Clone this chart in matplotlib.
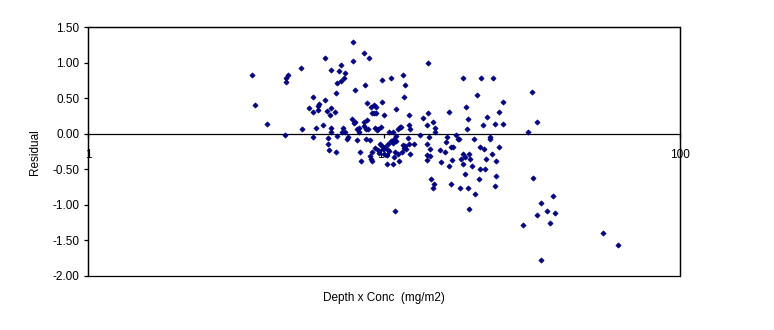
import numpy as np
import matplotlib
matplotlib.use("Agg")
import matplotlib.pyplot as plt
from matplotlib.ticker import FixedLocator, FixedFormatter, NullLocator, FormatStrFormatter

plt.rcParams['font.family'] = ['Liberation Sans', 'DejaVu Sans']

# depth x concentration (mg/m2) and model residual for each sample
depth_conc = [
    3.58, 3.66, 4.03, 4.64, 4.73, 4.67, 4.66, 5.24, 5.28,
    6.33, 6.62, 7.04, 6.93, 6.90, 5.75, 6.31, 6.03, 6.00, 5.58, 5.98,
    6.62, 6.41, 6.83, 5.75, 6.57, 6.22, 5.89, 6.63, 6.63, 6.93,
    5.75, 6.46, 6.48, 6.53, 6.90,
    7.87, 8.58, 8.89, 7.85, 7.17, 7.40, 7.32, 7.15, 7.99, 8.64,
    9.86, 10.56, 11.59, 11.77, 11.68, 14.11, 8.78, 9.84, 9.29, 9.42,
    9.05, 9.15, 9.29, 9.42, 10.0, 11.0, 12.15, 14.07, 13.54, 14.63,
    12.15, 13.96, 7.79, 7.93, 7.99, 8.58, 8.78,
    7.30, 7.40, 7.21, 8.12, 8.27, 8.23, 8.58, 8.71, 8.87, 9.36,
    9.56, 9.47, 9.79, 10.39, 10.72, 11.20, 11.35, 11.44, 12.24, 14.87,
    14.87, 7.55, 7.49, 8.12, 8.68, 8.98,
    8.29, 8.36, 9.13, 8.97, 9.03, 9.13, 9.34, 9.54, 9.62, 9.71,
    9.84, 10.10, 9.97, 10.34, 10.36, 10.02, 10.26, 10.44, 10.58, 10.86,
    10.77, 10.98, 11.00, 10.93, 11.14, 10.80, 10.23, 10.72, 11.23, 11.50,
    11.59, 11.68, 11.80, 11.86, 12.08, 12.17, 12.24, 12.69, 13.23, 13.96,
    14.29, 14.18, 13.96, 14.00, 14.33, 14.44, 14.74, 14.63, 10.88, 15.50,
    16.07, 16.33, 16.24,
    18.49, 21.27, 23.35, 31.71, 20.62, 25.23, 18.92, 16.57, 24.46, 22.27,
    19.21, 32.89, 21.60, 23.71, 25.23, 19.07, 30.67, 17.51, 17.79, 18.01,
    22.80, 22.80, 20.13, 16.84, 17.11, 21.16, 21.78, 24.46,
    18.49, 19.38, 18.83, 18.25, 19.57, 23.17, 22.11, 23.96, 16.97, 15.62,
    16.62, 18.49, 19.82, 21.16, 21.93, 18.83, 20.99, 23.96, 16.88, 18.10,
    19.21, 23.71, 20.35, 19.36,
    31.89, 37.36, 33.94, 35.65, 37.95, 32.97, 29.50, 36.41, 55.11, 61.94,
    33.94,
]
residual = [
    0.83, 0.41, 0.14, -0.02, 0.82, 0.78, 0.72, 0.93, 0.06,
    1.07, 0.90, 0.88, 0.71, 0.57, 0.51, 0.48, 0.42, 0.39, 0.36, 0.34,
    0.36, 0.32, 0.31, 0.30, 0.27, 0.12, 0.08, 0.08, 0.03, -0.03,
    -0.05, -0.06, -0.14, -0.23, -0.25,
    1.29, 1.13, 1.06, 1.02, 0.96, 0.86, 0.78, 0.74, 0.62, 0.69,
    0.76, 0.78, 0.83, 0.68, 0.51, 1.00, 0.43, 0.44, 0.41, 0.38,
    0.37, 0.29, 0.29, 0.29, 0.26, 0.35, 0.26, 0.29, 0.22, 0.16,
    0.12, 0.12, 0.20, 0.15, 0.17, 0.17, 0.19,
    0.08, 0.03, 0.02, 0.07, 0.08, 0.03, 0.11, 0.07, 0.06, 0.08,
    0.07, 0.05, 0.09, 0.03, 0.03, 0.06, 0.09, 0.10, 0.06, 0.08,
    0.03, -0.04, -0.08, -0.09, -0.07, -0.09,
    -0.25, -0.38, -0.25, -0.32, -0.36, -0.38, -0.20, -0.23, -0.27, -0.14,
    -0.17, -0.19, -0.21, -0.15, -0.23, -0.29, -0.30, -0.24, -0.10, -0.08,
    -0.13, -0.10, -0.03, -0.25, -0.29, -0.33, -0.43, -0.43, -0.38, -0.26,
    -0.16, -0.20, -0.17, -0.22, -0.06, -0.15, -0.28, -0.14, -0.02, -0.14,
    -0.21, -0.05, -0.30, -0.37, -0.32, -0.63, -0.71, -0.77, -1.09, -0.23,
    -0.26, -0.05, -0.12,
    0.79, 0.78, 0.78, 0.59, 0.54, 0.44, 0.38, 0.30, 0.30, 0.24,
    0.20, 0.17, 0.12, 0.13, 0.13, 0.06, 0.03, -0.02, -0.08, -0.07,
    -0.04, -0.07, -0.08, -0.18, -0.19, -0.18, -0.22, -0.19,
    -0.29, -0.29, -0.33, -0.35, -0.35, -0.29, -0.35, -0.38, -0.37, -0.40,
    -0.45, -0.42, -0.45, -0.50, -0.50, -0.56, -0.63, -0.60, -0.70, -0.76,
    -0.77, -0.73, -0.85, -1.06,
    -0.62, -0.88, -0.97, -1.08, -1.11, -1.14, -1.29, -1.26, -1.39, -1.57,
    -1.78,
]

x_ticks = [1, 10, 100]
x_labels = ['1', '10', '100']
y_ticks = [-2.0, -1.5, -1.0, -0.5, 0.0, 0.5, 1.0, 1.5]

fig = plt.figure(figsize=(7.74, 3.30), dpi=100)
ax = fig.add_axes([88/774, 1 - 276/330, 591.5/774, 249/330])

ax.scatter(depth_conc, residual, marker='D', s=7, color='#000080',
           linewidths=0.5, edgecolors='#000080', zorder=3)

ax.set_xscale('log')
ax.set_xlim(1, 100)
ax.set_ylim(-2.0, 1.5)

# x axis runs along residual = 0, plot area keeps a full box
ax.spines['bottom'].set_position(('data', 0))
for sp in ax.spines.values():
    sp.set_linewidth(0.9)
ax.patch.set_edgecolor('black')
ax.patch.set_linewidth(0.9)

ax.xaxis.set_major_locator(FixedLocator(x_ticks))
ax.xaxis.set_major_formatter(FixedFormatter(x_labels))
ax.xaxis.set_minor_locator(NullLocator())
ax.yaxis.set_major_locator(FixedLocator(y_ticks))
ax.yaxis.set_major_formatter(FormatStrFormatter('%.2f'))

ax.tick_params(axis='x', direction='out', length=3, width=0.9, pad=8,
               labelsize=8.5, colors='black')
ax.tick_params(axis='y', direction='out', length=3, width=0.9, pad=3,
               labelsize=8.5, colors='black')

fig.text(34.7/774, 1 - 152/330, 'Residual', rotation=90,
         ha='center', va='center', fontsize=8.5)
fig.text(384/774, 1 - 298/330, 'Depth x Conc  (mg/m2)',
         ha='center', va='center', fontsize=8.5)

fig.savefig('out.png', dpi=100)
